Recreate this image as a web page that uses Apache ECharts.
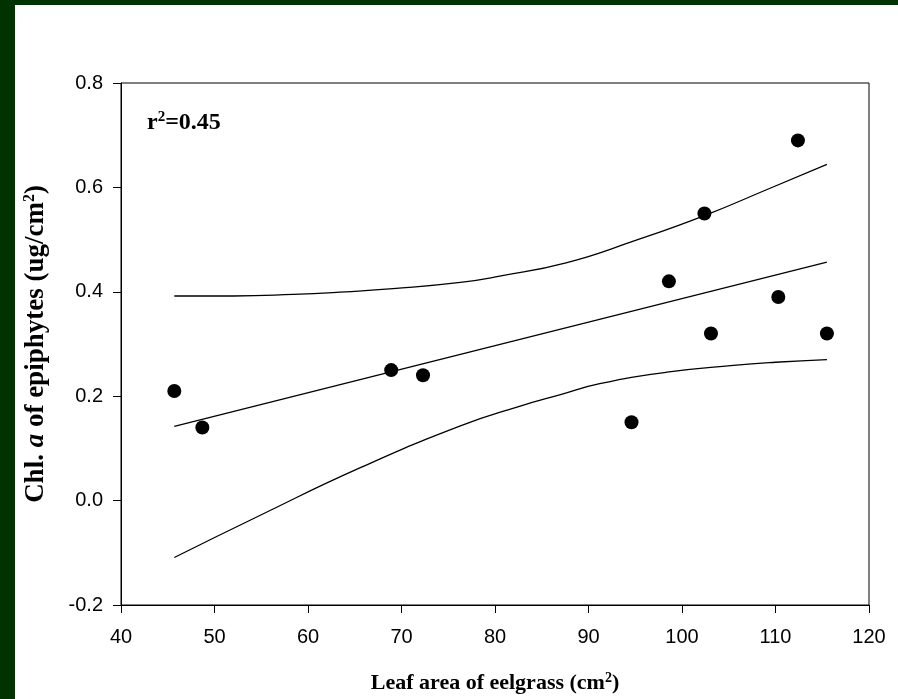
<!DOCTYPE html>
<html><head><meta charset="utf-8">
<script src="https://cdn.jsdelivr.net/npm/echarts@6/dist/echarts.min.js"></script>
<style>html,body{margin:0;padding:0;background:#fff}#c{width:898px;height:699px}</style>
</head><body><div id="c"></div>
<script>
// Observed data points
const leafArea = [45.7, 48.7, 68.9, 72.3, 94.6, 98.6, 102.4, 103.1, 110.3, 112.4, 115.5];
const chlA     = [0.21, 0.14, 0.25, 0.24, 0.15, 0.42, 0.55, 0.32, 0.39, 0.69, 0.32];
// Regression line
const fitX = [45.7, 115.5];
const fitY = [0.142, 0.457];
// Upper confidence band
const upX = [45.7, 52.0, 58.4, 64.0, 69.1, 76.3, 80.5, 87.7, 94.8, 102.4, 109.1, 115.5];
const upY = [0.392, 0.392, 0.395, 0.400, 0.406, 0.418, 0.430, 0.456, 0.497, 0.546, 0.596, 0.644];
// Lower confidence band
const loX = [45.7, 54.9, 65.6, 76.3, 82.7, 87.0, 91.2, 98.4, 105.5, 110.0, 115.5];
const loY = [-0.109, -0.028, 0.063, 0.143, 0.181, 0.203, 0.224, 0.246, 0.259, 0.265, 0.270];
const xTicks = [40, 120, 10];
const yTicks = [-0.2, 0.8, 0.2];

const pair = (xs, ys) => xs.map((x, i) => [x, ys[i]]);
const chart = echarts.init(document.getElementById('c'));
const lineStyle = {color: '#000', width: 1.3};
const curve = {type: 'line', symbol: 'none', smooth: 0.5, lineStyle, z: 2, silent: true};
chart.setOption({
  backgroundColor: '#fff',
  animation: false,
  grid: {left: 121, top: 83, width: 748, height: 522, show: true, borderColor: '#000', borderWidth: 1, backgroundColor: 'transparent'},
  xAxis: {
    type: 'value', min: xTicks[0], max: xTicks[1], interval: xTicks[2],
    axisLine: {show: true, onZero: false, lineStyle: {color: '#000', width: 1}},
    axisTick: {show: true, length: 8, lineStyle: {color: '#000'}},
    splitLine: {show: false},
    axisLabel: {color: '#000', fontFamily: 'Liberation Sans, Arial', fontSize: 20, margin: 22},
    name: 'Leaf area of eelgrass (cm{sup|2})',
    nameLocation: 'middle', nameGap: 66,
    nameTextStyle: {color: '#000', fontFamily: 'Liberation Serif', fontWeight: 'bold', fontSize: 22,
      rich: {sup: {fontSize: 14, fontFamily: 'Liberation Serif', fontWeight: 'bold', padding: [0,0,10,0]}}}
  },
  yAxis: {
    type: 'value', min: yTicks[0], max: yTicks[1], interval: yTicks[2],
    axisLine: {show: true, onZero: false, lineStyle: {color: '#000', width: 1}},
    axisTick: {show: true, length: 8, lineStyle: {color: '#000'}},
    splitLine: {show: false},
    axisLabel: {color: '#000', fontFamily: 'Liberation Sans, Arial', fontSize: 20, margin: 18,
      formatter: v => v.toFixed(1)},
    name: 'Chl. {it|a} of epiphytes (ug/cm{sup|2})',
    nameLocation: 'middle', nameGap: 71, nameRotate: 90,
    nameTextStyle: {color: '#000', fontFamily: 'Liberation Serif', fontWeight: 'bold', fontSize: 27,
      rich: {it: {fontStyle: 'italic', fontWeight: 'bold', fontFamily: 'Liberation Serif', fontSize: 27},
             sup: {fontSize: 16, fontFamily: 'Liberation Serif', fontWeight: 'bold', padding: [0,0,12,0]}}}
  },
  series: [
    {type: 'line', data: pair(fitX, fitY), symbol: 'none', lineStyle, z: 2, silent: true},
    Object.assign({data: pair(upX, upY)}, curve),
    Object.assign({data: pair(loX, loY)}, curve),
    {type: 'scatter', data: pair(leafArea, chlA), symbol: 'circle', symbolSize: 14, itemStyle: {color: '#000', opacity: 1}, z: 3}
  ],
  graphic: [
    {type: 'rect', left: 0, top: 0, shape: {width: 15, height: 699}, style: {fill: '#003300'}, z: 100},
    {type: 'rect', left: 0, top: 0, shape: {width: 898, height: 5}, style: {fill: '#003300'}, z: 100},
    {type: 'text', left: 147, top: 110, z: 100,
      style: {text: 'r{sup|2}=0.45', fill: '#000', font: 'bold 24px Liberation Serif',
        rich: {sup: {fontSize: 15, fontWeight: 'bold', fontFamily: 'Liberation Serif', padding: [0,0,11,0]}}}}
  ]
});
</script></body></html>
